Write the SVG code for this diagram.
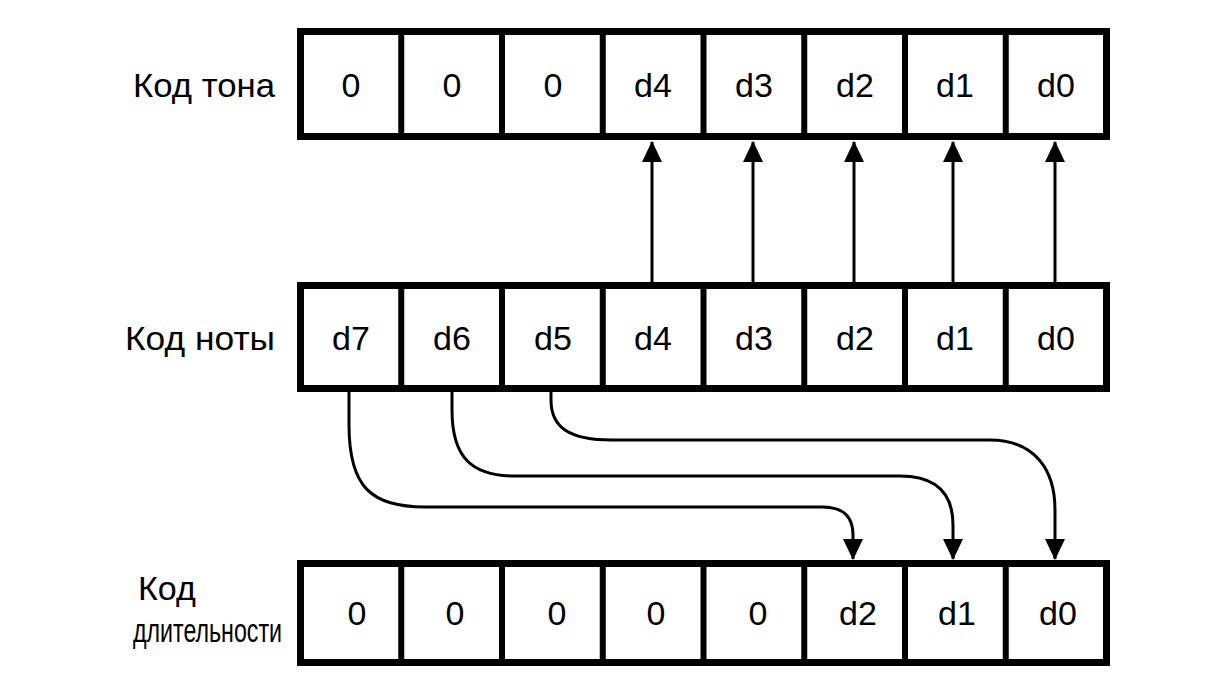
<svg xmlns="http://www.w3.org/2000/svg" width="1232" height="699" viewBox="0 0 1232 699">
<style>
.frame{fill:#fff;stroke:#000;stroke-width:7}
.div{stroke:#000;stroke-width:6}
.t{font-family:"Liberation Sans",Arial,sans-serif;font-size:34px;fill:#000;text-anchor:middle}
.lbl{font-family:"Liberation Sans",Arial,sans-serif;font-size:34px;fill:#000}
.narrow{font-family:"Liberation Sans Narrow","Arial Narrow","Liberation Sans",sans-serif;font-size:33px}
.c{fill:none;stroke:#000;stroke-width:3}
</style>
<defs>
<marker id="ah" markerUnits="userSpaceOnUse" markerWidth="22" markerHeight="22" viewBox="0 0 22 22" refX="20" refY="11" orient="auto">
<path d="M0 1 L21 11 L0 21 Z" fill="#000"/>
</marker>
</defs>
<rect width="1232" height="699" fill="#fff"/>

<g id="row-tone">
<text class="lbl" x="133" y="97" textLength="142" lengthAdjust="spacingAndGlyphs">Код тона</text>
<rect class="frame" x="300.5" y="31.5" width="806" height="105"/>
<path class="div" d="M401.25 31.5V136.5M502 31.5V136.5M602.75 31.5V136.5M703.5 31.5V136.5M804.25 31.5V136.5M905 31.5V136.5M1005.75 31.5V136.5"/>
<text class="t" x="351" y="97">0</text>
<text class="t" x="452" y="97">0</text>
<text class="t" x="553" y="97">0</text>
<text class="t" x="653" y="97">d4</text>
<text class="t" x="754" y="97">d3</text>
<text class="t" x="855" y="97">d2</text>
<text class="t" x="955" y="97">d1</text>
<text class="t" x="1056" y="97">d0</text>
</g>

<g id="row-note">
<text class="lbl" x="125" y="350" textLength="150" lengthAdjust="spacingAndGlyphs">Код ноты</text>
<rect class="frame" x="300.5" y="285.5" width="806" height="103"/>
<path class="div" d="M401.25 285.5V388.5M502 285.5V388.5M602.75 285.5V388.5M703.5 285.5V388.5M804.25 285.5V388.5M905 285.5V388.5M1005.75 285.5V388.5"/>
<text class="t" x="351" y="350">d7</text>
<text class="t" x="452" y="350">d6</text>
<text class="t" x="553" y="350">d5</text>
<text class="t" x="653" y="350">d4</text>
<text class="t" x="754" y="350">d3</text>
<text class="t" x="855" y="350">d2</text>
<text class="t" x="955" y="350">d1</text>
<text class="t" x="1056" y="350">d0</text>
</g>

<g id="row-duration">
<text class="lbl" x="138" y="600">Код</text>
<text class="lbl narrow" x="133" y="642" textLength="149" lengthAdjust="spacingAndGlyphs">длительности</text>
<rect class="frame" x="300.5" y="563.5" width="806" height="99"/>
<path class="div" d="M401.25 563.5V662.5M502 563.5V662.5M602.75 563.5V662.5M703.5 563.5V662.5M804.25 563.5V662.5M905 563.5V662.5M1005.75 563.5V662.5"/>
<text class="t" x="357" y="625">0</text>
<text class="t" x="455" y="625">0</text>
<text class="t" x="557" y="625">0</text>
<text class="t" x="656" y="625">0</text>
<text class="t" x="758" y="625">0</text>
<text class="t" x="858" y="625">d2</text>
<text class="t" x="957" y="625">d1</text>
<text class="t" x="1058" y="625">d0</text>
</g>

<g id="connectors">
<path class="c" d="M652 283V142" marker-end="url(#ah)"/>
<path class="c" d="M753 283V142" marker-end="url(#ah)"/>
<path class="c" d="M854 283V142" marker-end="url(#ah)"/>
<path class="c" d="M953 283V142" marker-end="url(#ah)"/>
<path class="c" d="M1055 283V142" marker-end="url(#ah)"/>
<path class="c" d="M349 392V425C349 488 372 507 425 507H822C845 507 853 518 853 535V559" marker-end="url(#ah)"/>
<path class="c" d="M452 392V410C452 458 472 476 515 476H900C938 476 953 495 953 525V559" marker-end="url(#ah)"/>
<path class="c" d="M551 392V400C551 428 570 440 612 440H990C1035 440 1055 470 1055 510V559" marker-end="url(#ah)"/>
</g>
</svg>
